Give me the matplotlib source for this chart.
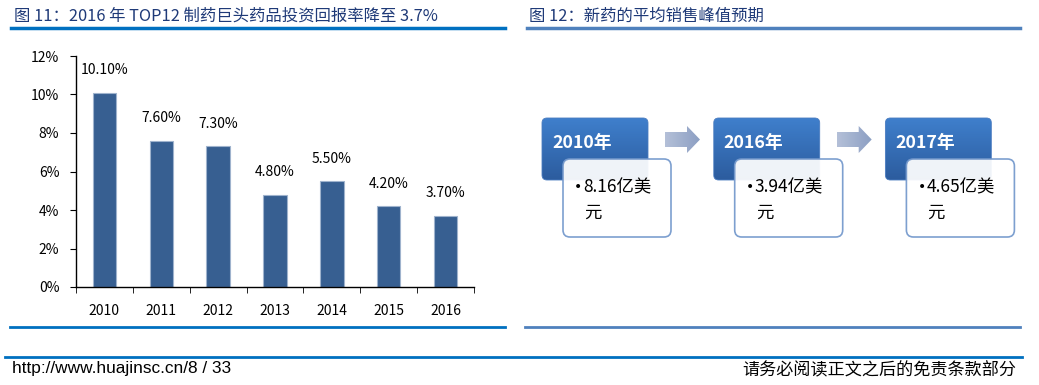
import numpy as np
import matplotlib
matplotlib.use("Agg")
import matplotlib.pyplot as plt
from matplotlib.patches import FancyBboxPatch, Polygon

plt.rcParams['font.family'] = ['Noto Sans CJK SC', 'DejaVu Sans']

# 图11 数据
years = ['2010', '2011', '2012', '2013', '2014', '2015', '2016']
returns = [10.1, 7.6, 7.3, 4.8, 5.5, 4.2, 3.7]
# 图12 数据
peak_years = ['2010年', '2016年', '2017年']
peak_sales = ['8.16', '3.94', '4.65']

title_left = '图 11：2016 年 TOP12 制药巨头药品投资回报率降至 3.7%'
title_right = '图 12：新药的平均销售峰值预期'
footer_left = 'http://www.huajinsc.cn/8 / 33'
footer_right = '请务必阅读正文之后的免责条款部分'

W, H = 1039, 385
fig = plt.figure(figsize=(W / 100, H / 100), dpi=100)

# 画布坐标轴（像素坐标）
bg = fig.add_axes([0, 0, 1, 1])
bg.set_xlim(0, W)
bg.set_ylim(H, 0)
bg.axis('off')

c_left = '#0070c0'
c_right = '#4f81bd'
bg.plot([11, 505], [28, 28], color=c_left, lw=2.5)
bg.plot([527, 1020], [28, 28], color=c_right, lw=2.5)
bg.plot([10, 505], [327, 327], color=c_left, lw=2)
bg.plot([525, 1020], [327, 327], color=c_right, lw=2)
bg.plot([5, 1022], [357, 357], color=c_left, lw=2)

bg.text(14, 16, title_left, fontsize=11.8, color='#1f3a78', va='center', ha='left')
bg.text(529, 16, title_right, fontsize=11.8, color='#1f3a78', va='center', ha='left')
bg.text(12, 369, footer_left, fontsize=12.4, color='black', va='center', ha='left',
        family=['Liberation Sans Narrow', 'Liberation Sans', 'DejaVu Sans'])
bg.text(1016, 370, footer_right, fontsize=12.3, color='black', va='center', ha='right')

# 柱状图
ax = fig.add_axes([76 / W, 1 - 287 / H, (474 - 76) / W, (287 - 56) / H])
x = np.arange(len(years))
ax.bar(x, np.array(returns) / 100, width=0.41, color='#375f91',
       edgecolor='#9fb3cd', linewidth=0.8)
for xi, v in zip(x, returns):
    ax.text(xi, v / 100 + 0.008, f'{v:.2f}%', ha='center', va='bottom', fontsize=10)
ax.set_xlim(-0.5, len(years) - 0.5)
ax.set_ylim(0, 0.12)
ax.set_yticks(np.arange(0, 0.121, 0.02))
ax.set_yticklabels([f'{int(round(t * 100))}%' for t in np.arange(0, 0.121, 0.02)], fontsize=10)
ax.set_xticks(x)
ax.set_xticklabels(years, fontsize=10)
ax.set_xticks(np.arange(-0.5, len(years)), minor=True)
ax.tick_params(axis='x', which='major', length=0, pad=12)
ax.tick_params(axis='x', which='minor', length=4, direction='out')
ax.tick_params(axis='y', length=4, direction='out', pad=8)
for s in ['top', 'right']:
    ax.spines[s].set_visible(False)
ax.spines['left'].set_linewidth(1)
ax.spines['bottom'].set_linewidth(1)

# 流程图
grad = np.linspace(0, 1, 100).reshape(-1, 1)
step = 171.7
for i, (yr, val) in enumerate(zip(peak_years, peak_sales)):
    x0 = 542 + i * step
    dark = FancyBboxPatch((x0, 118), 106, 62, boxstyle='round,pad=0,rounding_size=5',
                          facecolor='none', edgecolor='#4a7cc0', lw=0.6, zorder=2)
    bg.add_patch(dark)
    im = bg.imshow(grad, cmap=matplotlib.colors.LinearSegmentedColormap.from_list(
        'b', ['#3f7fcc', '#2c5c9e']), extent=(x0, x0 + 106, 180, 118),
        aspect='auto', zorder=1)
    im.set_clip_path(dark)
    bg.text(x0 + 10, 143, yr, color='white', fontsize=12.8, fontweight='bold',
            va='center', ha='left', zorder=3)
    white = FancyBboxPatch((x0 + 21, 159), 108, 78, boxstyle='round,pad=0,rounding_size=7',
                           facecolor='white', edgecolor='#7398cc', lw=1.2, alpha=0.93, zorder=4)
    bg.add_patch(white)
    bg.text(x0 + 32, 187, '•', fontsize=10, va='center', ha='left', zorder=5,
            family='DejaVu Sans')
    bg.text(x0 + 41, 187, val + '亿美', fontsize=12.5, va='center', ha='left', zorder=5)
    bg.text(x0 + 42, 213, '元', fontsize=12.5, va='center', ha='left', zorder=5)
    if i < len(peak_years) - 1:
        ax0 = 665 + i * step
        arrow = Polygon([(ax0, 132), (ax0 + 22, 132), (ax0 + 22, 126), (ax0 + 35, 139.5),
                         (ax0 + 22, 153), (ax0 + 22, 147), (ax0, 147)], closed=True,
                        facecolor='none', edgecolor='none', zorder=2)
        bg.add_patch(arrow)
        gi = bg.imshow(grad.T, cmap=matplotlib.colors.LinearSegmentedColormap.from_list(
            'g', ['#b4c0d8', '#8c9fc3']), extent=(ax0, ax0 + 35, 153, 126),
            aspect='auto', zorder=1)
        gi.set_clip_path(arrow)

bg.set_xlim(0, W)
bg.set_ylim(H, 0)

fig.savefig('out.png', dpi=100)
